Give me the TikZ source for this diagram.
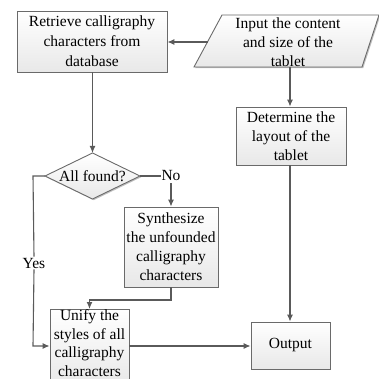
\documentclass[tikz,border=0pt]{standalone}
\usepackage{fontspec}
\setmainfont{Liberation Serif}
\usetikzlibrary{shapes.geometric,arrows.meta,shadows}
\definecolor{lnc}{HTML}{5A5A5A}
\definecolor{bdc}{HTML}{6A6A6A}
\tikzset{
  boxfill/.style={top color=white,bottom color=black!9,draw=bdc,line width=0.9pt,
    drop shadow={shadow xshift=1.2pt,shadow yshift=-1.2pt,opacity=0.25,fill=black}},
  procbox/.style={boxfill,rectangle,inner sep=0pt,align=center,
    font=\fontsize{15.5}{19}\selectfont},
  txt/.style={inner sep=0pt,align=center,font=\fontsize{15.5}{19}\selectfont},
  conn/.style={draw=lnc,line width=1.1pt},
  arr/.style={conn,-{Latex[length=7pt,width=6pt]}},
}
\begin{document}
\begin{tikzpicture}[x=1pt,y=-1pt]
\useasboundingbox (0,0) rectangle (378,379);
% boxes
\node[procbox,minimum width=150pt,minimum height=61pt] (ret) at (92,41.5)
  {Retrieve calligraphy\\[1pt]characters from\\[1pt]database};
\path[boxfill] (222,15) -- (379,15) -- (362,67) -- (194,67) -- cycle;
\node[txt] (inp) at (288,42.5) {Input the content\\and size of the\\tablet};
\coordinate (inL) at (207.5,42);
\coordinate (inB) at (290,67);
\node[procbox,minimum width=110pt,minimum height=58pt] (det) at (291,136)
  {Determine the\\layout of the\\tablet};
% decision
\coordinate (dN) at (92.5,153);
\coordinate (dE) at (140,176);
\coordinate (dS) at (92.5,199);
\coordinate (dW) at (45,176);
\path[boxfill] (dN) -- (dE) -- (dS) -- (dW) -- cycle;
\node[txt] (dia) at (92.5,176) {All found?};
\node[txt] (no) at (171,176) {No};
\node[procbox,minimum width=94pt,minimum height=80pt] (syn) at (171,247)
  {Synthesize\\the unfounded\\calligraphy\\characters};
\node[procbox,minimum width=79pt,minimum height=78pt,anchor=north] (uni) at (89.5,309) {};
\node[txt,font=\fontsize{15.5}{18.5}\selectfont] (unit) at (89.5,343) {Unify the\\styles of all\\calligraphy\\characters};
\node[procbox,minimum width=79pt,minimum height=47pt] (out) at (290.5,345.5) {Output};
\node[txt,fill=white,inner sep=1pt] (yes) at (34,263) {Yes};
% connectors
\draw[arr] (inL) -- (ret.east |- inL);
\draw[arr] (inB) -- (inB |- det.north);
\draw[arr] (det.south -| inB) -- (inB |- out.north);
\draw[arr] (ret.south -| dN) -- (dN);
\draw[conn] (dE) -- (no.west);
\draw[arr] (171,183) -- (syn.north);
\draw[conn] (dW) -- (33,176) -- (yes.north);
\draw[arr] (yes.south) -- (33,346) -- (uni.west |- 0,346);
\draw[arr] (syn.south) -- (171,300) -- (89.5,300) -- (uni.north);
\draw[arr] (uni.east |- 0,346) -- (out.west |- 0,346);
\end{tikzpicture}
\end{document}
